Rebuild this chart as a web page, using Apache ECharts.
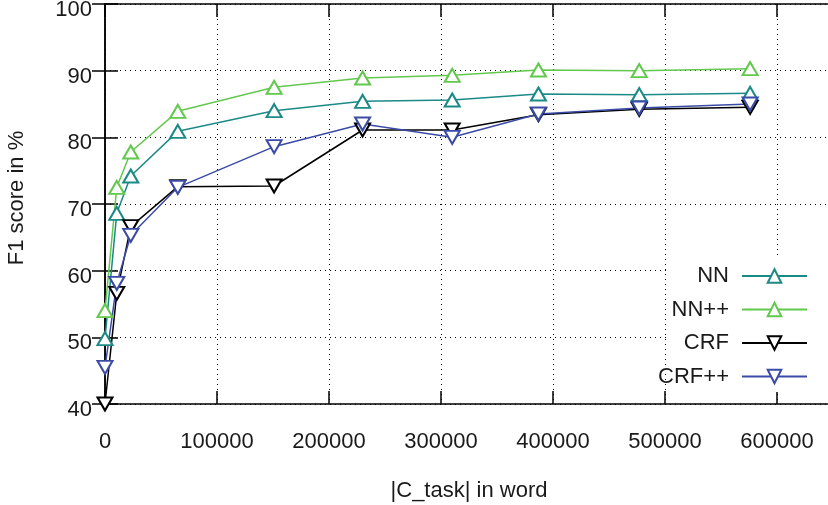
<!DOCTYPE html>
<html>
<head>
<meta charset="utf-8">
<script src="https://cdn.jsdelivr.net/npm/echarts@6/dist/echarts.min.js"></script>
<style>
  html, body { margin: 0; padding: 0; background: #fff; }
  #chart { width: 828px; height: 505px; }
</style>
</head>
<body>
<div id="chart"></div>
<script>
// |C_task| sizes (words)
const taskSizes = [0, 10500, 23000, 65000, 151000, 230000, 310000, 387000, 477000, 576000]
// F1 scores in %
const nnScores = [49.8, 68.6, 74.2, 80.9, 84.0, 85.4, 85.6, 86.5, 86.4, 86.6]
const nnPlusScores = [54.0, 72.5, 77.8, 83.9, 87.5, 88.9, 89.3, 90.1, 90.0, 90.3]
const crfScores = [40.0, 56.6, 66.6, 72.6, 72.7, 81.1, 81.1, 83.4, 84.2, 84.5]
const crfPlusScores = [45.5, 58.1, 65.3, 72.5, 78.6, 82.0, 80.0, 83.5, 84.4, 85.0]

const seriesNames = ['NN', 'NN++', 'CRF', 'CRF++']
const seriesColors = ['#1b8a87', '#62c84e', '#000000', '#3b4ba6']
const seriesData = [nnScores, nnPlusScores, crfScores, crfPlusScores]
const seriesDown = [false, false, true, true]

const font = 'Liberation Sans, Arial, Helvetica, sans-serif'
const textColor = '#1a1a1a'
const fontSize = 22

const chart = echarts.init(document.getElementById('chart'))

const tick = { show: true, inside: true, length: 13, lineStyle: { color: '#000', width: 1.5 } }
const dotted = { show: true, lineStyle: { color: '#000', width: 1, type: [1, 4] } }

const option = {
  animation: false,
  backgroundColor: '#fff',
  grid: { left: 105, top: 4, width: 728, height: 400, containLabel: false, outerBoundsMode: 'none' },
  graphic: [
    {
      // blank box behind the key, like gnuplot
      type: 'rect',
      z: 1,
      shape: { x: 668, y: 258, width: 170, height: 134 },
      style: { fill: '#fff' }
    }
  ],
  legend: {
    orient: 'vertical',
    align: 'right',
    right: 20,
    top: 265,
    itemWidth: 65,
    itemHeight: 17,
    itemGap: 11.5,
    padding: 0,
    data: seriesNames,
    textStyle: { fontFamily: font, fontSize: fontSize, color: textColor, padding: [0, 8, 0, 0] }
  },
  xAxis: [
    {
      type: 'value',
      min: 0,
      max: 650000,
      interval: 100000,
      name: '|C_task| in word',
      nameLocation: 'middle',
      nameGap: 76,
      nameTextStyle: { fontFamily: font, fontSize: fontSize, color: textColor },
      axisLine: { show: true, lineStyle: { color: '#000', width: 1.5 } },
      axisTick: tick,
      axisLabel: {
        fontFamily: font, fontSize: fontSize, color: textColor, margin: 27, showMaxLabel: false,
        formatter: v => String(v)
      },
      splitLine: dotted
    },
    {
      type: 'value',
      position: 'top',
      min: 0,
      max: 650000,
      interval: 100000,
      axisLine: { show: true, lineStyle: { color: '#000', width: 1.5 } },
      axisTick: tick,
      axisLabel: { show: false },
      splitLine: { show: false }
    }
  ],
  yAxis: [
    {
      type: 'value',
      min: 40,
      max: 100,
      interval: 10,
      name: 'F1 score in %',
      nameLocation: 'middle',
      nameGap: 77,
      nameRotate: 90,
      nameTextStyle: { fontFamily: font, fontSize: fontSize, color: textColor, padding: [0, 0, 0, 12] },
      axisLine: { show: true, lineStyle: { color: '#000', width: 1.5 } },
      axisTick: tick,
      axisLabel: {
        fontFamily: font, fontSize: fontSize, color: textColor, margin: 13,
        verticalAlign: 'top', lineHeight: 12
      },
      splitLine: dotted
    },
    {
      type: 'value',
      position: 'right',
      min: 40,
      max: 100,
      interval: 10,
      z: 3,
      axisLine: { show: true, lineStyle: { color: '#000', width: 1.5 } },
      axisTick: tick,
      axisLabel: { show: false },
      splitLine: { show: false }
    }
  ],
  series: seriesNames.map((name, i) => ({
    name: name,
    type: 'line',
    z: 5,
    data: taskSizes.map((x, j) => [x, seriesData[i][j]]),
    symbol: 'emptyTriangle',
    symbolSize: [15, 13],
    symbolRotate: seriesDown[i] ? 180 : 0,
    lineStyle: { color: seriesColors[i], width: 1.5 },
    itemStyle: { color: seriesColors[i], borderWidth: 1.6 }
  }))
}

chart.setOption(option)
</script>
</body>
</html>
